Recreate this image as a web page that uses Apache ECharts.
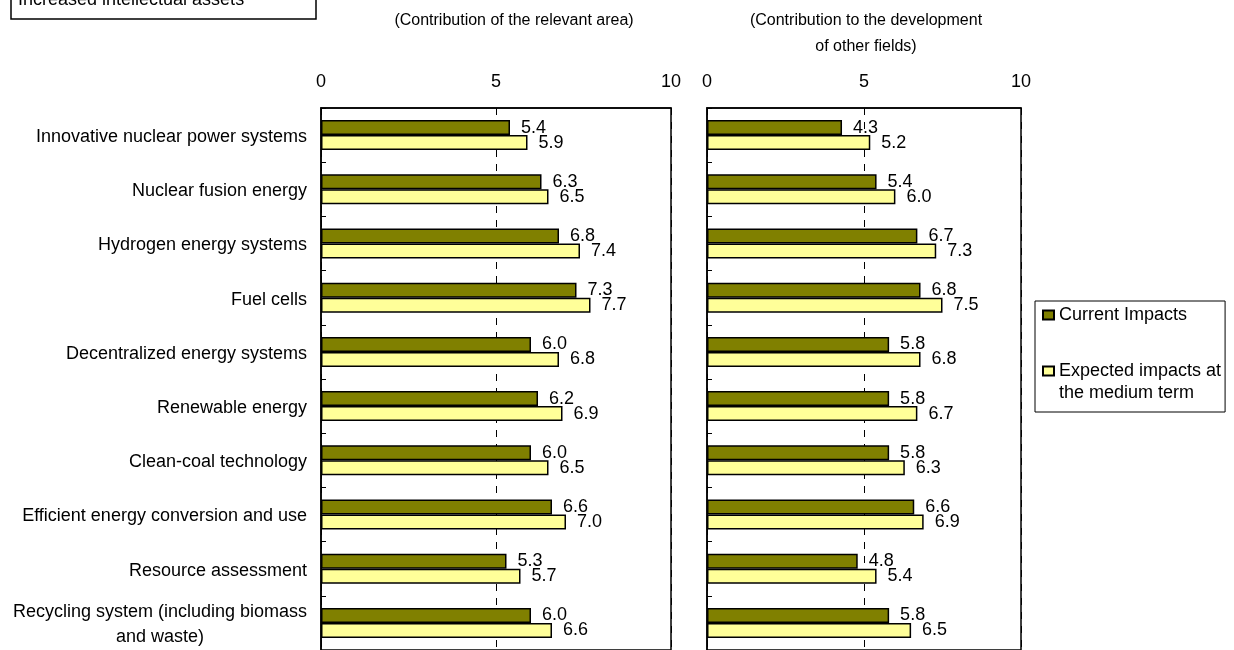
<!DOCTYPE html>
<html>
<head>
<meta charset="utf-8">
<title>Increased intellectual assets</title>
<script src="https://cdn.jsdelivr.net/npm/echarts@6/dist/echarts.min.js"></script>
<style>
  html, body { margin: 0; padding: 0; background: #fff; }
  #chart { width: 1234px; height: 650px; }
</style>
</head>
<body>
<div id="chart"></div>
<script>
// Research areas, listed top to bottom
const categories = [
  'Innovative nuclear power systems',
  'Nuclear fusion energy',
  'Hydrogen energy systems',
  'Fuel cells',
  'Decentralized energy systems',
  'Renewable energy',
  'Clean-coal technology',
  'Efficient energy conversion and use',
  'Resource assessment',
  'Recycling system (including biomass\nand waste)'
];

// Contribution of the relevant area
const areaCurrent  = [5.4, 6.3, 6.8, 7.3, 6.0, 6.2, 6.0, 6.6, 5.3, 6.0];
const areaExpected = [5.9, 6.5, 7.4, 7.7, 6.8, 6.9, 6.5, 7.0, 5.7, 6.6];

// Contribution to the development of other fields
const otherCurrent  = [4.3, 5.4, 6.7, 6.8, 5.8, 5.8, 5.8, 6.6, 4.8, 5.8];
const otherExpected = [5.2, 6.0, 7.3, 7.5, 6.8, 6.7, 6.3, 6.9, 5.4, 6.5];

const seriesNames = ['Current Impacts', 'Expected impacts at\nthe medium term'];
const scaleTicks = [0, 5, 10];

const FONT = 'Liberation Sans, Arial, sans-serif';
const FS = 18;
const colors = ['#808000', '#FFFF99'];

const chart = echarts.init(document.getElementById('chart'));

function xAxisFor(gridIndex) {
  return {
    type: 'value',
    gridIndex: gridIndex,
    position: 'top',
    min: scaleTicks[0],
    max: scaleTicks[scaleTicks.length - 1],
    interval: scaleTicks[1] - scaleTicks[0],
    axisLine: { show: true, lineStyle: { color: '#000', width: 1.5 } },
    axisTick: { show: false },
    axisLabel: { margin: 17, color: '#000', fontFamily: FONT, fontSize: FS },
    splitLine: { show: true, lineStyle: { color: '#000', width: 1, type: [7, 7] } }
  };
}

function yAxisFor(gridIndex, showLabels) {
  return {
    type: 'category',
    gridIndex: gridIndex,
    data: categories,
    inverse: true,
    axisLine: { show: true, lineStyle: { color: '#000', width: 1.5 } },
    axisTick: { show: true, inside: true, length: 5, lineStyle: { color: '#000' } },
    axisLabel: {
      show: showLabels,
      margin: 14,
      padding: [4, 0, 0, 0],
      color: '#000',
      fontFamily: FONT,
      fontSize: FS,
      lineHeight: 25,
      formatter: function (v) {
        return v.split('\n').map(function (line) { return '{c|' + line + '}'; }).join('\n');
      },
      rich: { c: { align: 'center', fontFamily: FONT, fontSize: FS, color: '#000', lineHeight: 25 } }
    },
    splitLine: { show: false }
  };
}

function barSeries(name, data, idx, colorIdx) {
  return {
    name: name,
    type: 'bar',
    xAxisIndex: idx,
    yAxisIndex: idx,
    data: data,
    barWidth: 15,
    barGap: '0%',
    itemStyle: { color: colors[colorIdx], borderColor: '#000', borderWidth: 1.5 },
    label: {
      show: true,
      position: 'right',
      distance: 11,
      color: '#000',
      fontFamily: FONT,
      fontSize: FS,
      formatter: function (p) { return p.value.toFixed(1); }
    },
    emphasis: { disabled: true }
  };
}

chart.setOption({
  animation: false,
  textStyle: { fontFamily: FONT },
  grid: [
    { left: 321, top: 108, width: 350, height: 544, show: true, borderColor: '#000', borderWidth: 1.5, backgroundColor: '#fff', containLabel: false },
    { left: 707, top: 108, width: 314, height: 544, show: true, borderColor: '#000', borderWidth: 1.5, backgroundColor: '#fff', containLabel: false }
  ],
  xAxis: [xAxisFor(0), xAxisFor(1)],
  yAxis: [yAxisFor(0, true), yAxisFor(1, false)],
  legend: {
    orient: 'vertical',
    left: 1035,
    top: 301,
    data: seriesNames,
    icon: 'rect',
    itemWidth: 11,
    itemHeight: 9,
    itemGap: 12,
    padding: [3, 4, 8, 7],
    borderColor: '#000',
    borderWidth: 1,
    backgroundColor: '#fff',
    selectedMode: false,
    // a blank first line keeps the square beside the first line of a wrapped name
    formatter: function (name) { return name.indexOf('\n') >= 0 ? '\n' + name : name; },
    textStyle: { color: '#000', fontFamily: FONT, fontSize: FS, lineHeight: 22 }
  },
  graphic: [
    {
      type: 'rect',
      shape: { x: 11, y: -25, width: 305, height: 44 },
      style: { fill: '#fff', stroke: '#000', lineWidth: 1.5 }
    },
    {
      type: 'text',
      x: 18, y: 9,
      style: { text: 'Increased intellectual assets', fill: '#000', font: FS + 'px ' + FONT, textVerticalAlign: 'bottom' }
    },
    {
      type: 'text',
      x: 514, y: 21,
      style: { text: '(Contribution of the relevant area)', fill: '#000', font: '16px ' + FONT, align: 'center', verticalAlign: 'middle' }
    },
    {
      type: 'text',
      x: 866, y: 34,
      style: { text: '(Contribution to the development\nof other fields)', fill: '#000', font: '16px ' + FONT, align: 'center', verticalAlign: 'middle', lineHeight: 26 }
    }
  ],
  series: [
    barSeries(seriesNames[0], areaCurrent, 0, 0),
    barSeries(seriesNames[1], areaExpected, 0, 1),
    barSeries(seriesNames[0], otherCurrent, 1, 0),
    barSeries(seriesNames[1], otherExpected, 1, 1)
  ]
});
</script>
</body>
</html>
